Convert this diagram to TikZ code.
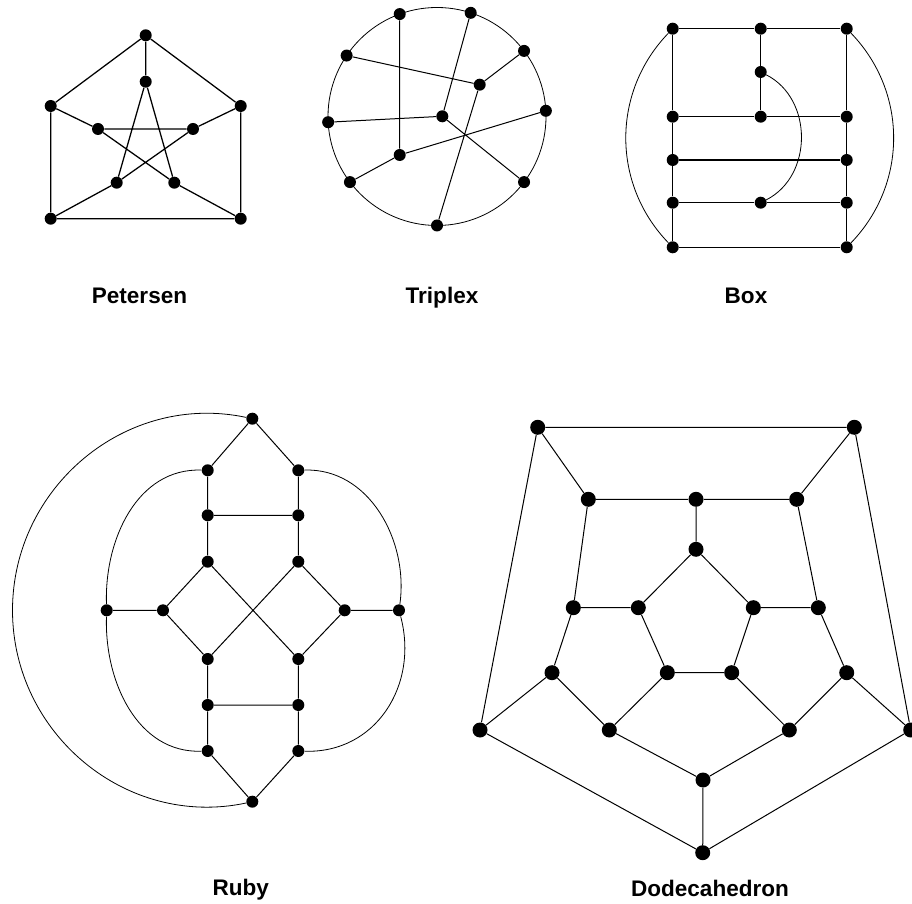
\documentclass[tikz,border=0pt]{standalone}
\usepackage{fontspec}
\setmainfont{Liberation Sans}
\usetikzlibrary{calc}
\begin{document}
\begin{tikzpicture}[x=0.75pt,y=0.75pt,
  v/.style={circle,fill=black,inner sep=0pt,minimum size=9pt},
  vd/.style={circle,fill=black,inner sep=0pt,minimum size=11.25pt},
  e/.style={line width=0.95pt},
  em/.style={line width=0.75pt},
  ethin/.style={line width=0.6pt},
  lab/.style={font=\bfseries\fontsize{16.9pt}{20pt}\selectfont,anchor=base,inner sep=0pt}]
\useasboundingbox (0,0) rectangle (912,903);

% ---------------- Petersen ----------------
\node[v] (pT)  at (145.7,867.7) {};
\node[v] (pIT) at (145.7,821.3) {};
\node[v] (pL)  at (50.7,797) {};
\node[v] (pR)  at (240.7,797) {};
\node[v] (pIL) at (98,774) {};
\node[v] (pIR) at (193,774) {};
\node[v] (pIBL) at (116.7,720.3) {};
\node[v] (pIBR) at (174.3,720.3) {};
\node[v] (pBL) at (50.7,684.3) {};
\node[v] (pBR) at (240.7,684.3) {};
\draw[e] (pT) -- (pL) (pT) -- (pR) (pL) -- (pBL) (pR) -- (pBR) (pBL) -- (pBR);
\draw[e] (pT) -- (pIT) (pL) -- (pIL) (pR) -- (pIR) (pBL) -- (pIBL) (pBR) -- (pIBR);
\draw[e] (pIL) -- (pIR) (pIT) -- (pIBL) (pIT) -- (pIBR) (pIL) -- (pIBR) (pIR) -- (pIBL);
\node[lab] (lPet) at (139.5,599) {Petersen};

% ---------------- Triplex ----------------
\coordinate (tc) at (437,786.5);
\draw[ethin] (tc) circle[radius=109];
\node[v] (tA) at ($(tc)+(110:109)$) {};
\node[v] (tB) at ($(tc)+(72:109)$) {};
\node[v] (tC) at ($(tc)+(37:109)$) {};
\node[v] (tD) at ($(tc)+(3:109)$) {};
\node[v] (tE) at ($(tc)+(-37:109)$) {};
\node[v] (tF) at ($(tc)+(-90:109)$) {};
\node[v] (tG) at ($(tc)+(-143:109)$) {};
\node[v] (tH) at ($(tc)+(183:109)$) {};
\node[v] (tI) at ($(tc)+(146:109)$) {};
\node[v] (tP) at (479.7,818.3) {};
\node[v] (tQ) at (442.3,786.7) {};
\node[v] (tR) at (399.7,748) {};
\draw[em] (tA) -- (tR) (tB) -- (tQ) (tI) -- (tP) (tC) -- (tP) (tP) -- (tF)
          (tH) -- (tQ) (tQ) -- (tE) (tR) -- (tG) (tR) -- (tD);
\node[lab] (lTri) at (442,599) {Triplex};

% ---------------- Box ----------------
\node[v] (bTL) at (672.7,874.3) {};
\node[v] (bTM) at (760.7,874.3) {};
\node[v] (bTR) at (846.7,874.3) {};
\node[v] (bM1) at (760.7,831) {};
\node[v] (bL2) at (672.7,786.3) {};
\node[v] (bM2) at (760.7,786.3) {};
\node[v] (bR2) at (846.7,786.3) {};
\node[v] (bL3) at (672.7,743) {};
\node[v] (bR3) at (846.7,743) {};
\node[v] (bL4) at (672.7,700.3) {};
\node[v] (bM4) at (760.7,700.3) {};
\node[v] (bR4) at (846.7,700.3) {};
\node[v] (bL5) at (672.7,655.7) {};
\node[v] (bR5) at (846.7,655.7) {};
\draw[e] (bTL) -- (bTM) -- (bTR) (bTL) -- (bL2) -- (bL3) -- (bL4) -- (bL5)
         (bTR) -- (bR2) -- (bR3) -- (bR4) -- (bR5) (bTM) -- (bM1) -- (bM2)
         (bL2) -- (bM2) -- (bR2) (bL3) -- (bR3) (bL4) -- (bM4) -- (bR4) (bL5) -- (bR5);
\draw[ethin] (bTL) to[out=226,in=134] (bL5);
\draw[ethin] (bTR) to[out=314,in=46] (bR5);
\draw[ethin] (bM1) to[out=333,in=27,looseness=1.08] (bM4);
\node[lab] (lBox) at (746,599) {Box};

% ---------------- Ruby ----------------
\node[v] (rT)   at (252.3,484.3) {};
\node[v] (rUL1) at (207.7,432.7) {};
\node[v] (rUR1) at (298.3,432.7) {};
\node[v] (rUL2) at (207.7,387.7) {};
\node[v] (rUR2) at (298.3,387.7) {};
\node[v] (rUL3) at (207.7,341.3) {};
\node[v] (rUR3) at (298.3,341.3) {};
\node[v] (rMLo) at (106.7,292.7) {};
\node[v] (rMLi) at (163,292.7) {};
\node[v] (rMRi) at (344.7,292.7) {};
\node[v] (rMRo) at (399,292.7) {};
\node[v] (rLL3) at (207.7,244) {};
\node[v] (rLR3) at (298.3,244) {};
\node[v] (rLL2) at (207.7,198) {};
\node[v] (rLR2) at (298.3,198) {};
\node[v] (rLL1) at (207.7,152) {};
\node[v] (rLR1) at (298.3,152) {};
\node[v] (rB)   at (252.3,101.3) {};
\coordinate (rW) at (12.5,292.7);
\draw[em] (rT) -- (rUL1) (rT) -- (rUR1) (rUL1) -- (rUL2) -- (rUL3) (rUR1) -- (rUR2) -- (rUR3)
          (rUL2) -- (rUR2) (rUL3) -- (rMLi) (rUL3) -- (rLR3) (rUR3) -- (rMRi) (rUR3) -- (rLL3)
          (rMLi) -- (rLL3) (rMRi) -- (rLR3) (rMLo) -- (rMLi) (rMRi) -- (rMRo)
          (rLL3) -- (rLL2) -- (rLL1) (rLR3) -- (rLR2) -- (rLR1) (rLL2) -- (rLR2)
          (rLL1) -- (rB) (rLR1) -- (rB);
\draw[ethin] (rUL1) to[out=178,in=92] (rMLo);
\draw[ethin] (rMLo) to[out=268,in=182] (rLL1);
\draw[ethin] (rUR1) to[out=2,in=82] (rMRo);
\draw[ethin] (rMRo) to[out=285,in=-2,looseness=1.1] (rLR1);
\draw[ethin] (rT) to[out=168,in=90,looseness=1.04] (rW) to[out=270,in=192,looseness=1.04] (rB);
\node[lab] (lRuby) at (240.7,8) {Ruby};

% ---------------- Dodecahedron ----------------
\node[vd] (dO1) at (537.7,475.7) {};
\node[vd] (dO2) at (854.3,475.7) {};
\node[vd] (dO3) at (910.7,173) {};
\node[vd] (dO4) at (702.7,50.3) {};
\node[vd] (dO5) at (480,173) {};
\node[vd] (dS1) at (588.3,403.7) {};
\node[vd] (dS2) at (696,403.7) {};
\node[vd] (dS3) at (796.7,403.7) {};
\node[vd] (dS4) at (818.3,295.3) {};
\node[vd] (dS5) at (846.7,230.3) {};
\node[vd] (dS6) at (789.3,173) {};
\node[vd] (dS7) at (703,123) {};
\node[vd] (dS8) at (609.3,173) {};
\node[vd] (dS9) at (552,230.3) {};
\node[vd] (dS10) at (573.3,295.3) {};
\node[vd] (dI1) at (696,353.7) {};
\node[vd] (dI2) at (753.3,295.3) {};
\node[vd] (dI3) at (731.7,230.3) {};
\node[vd] (dI4) at (667.3,230.3) {};
\node[vd] (dI5) at (638.3,295.3) {};
\draw[em] (dO1) -- (dO2) -- (dO3) -- (dO4) -- (dO5) -- (dO1);
\draw[em] (dO1) -- (dS1) (dO2) -- (dS3) (dO3) -- (dS5) (dO4) -- (dS7) (dO5) -- (dS9);
\draw[em] (dS1) -- (dS2) -- (dS3) -- (dS4) -- (dS5) -- (dS6) -- (dS7) -- (dS8) -- (dS9) -- (dS10) -- (dS1);
\draw[em] (dS2) -- (dI1) (dS4) -- (dI2) (dS6) -- (dI3) (dS8) -- (dI4) (dS10) -- (dI5);
\draw[em] (dI1) -- (dI2) -- (dI3) -- (dI4) -- (dI5) -- (dI1);
\node[lab] (lDod) at (710,6.3) {Dodecahedron};
\end{tikzpicture}
\end{document}
